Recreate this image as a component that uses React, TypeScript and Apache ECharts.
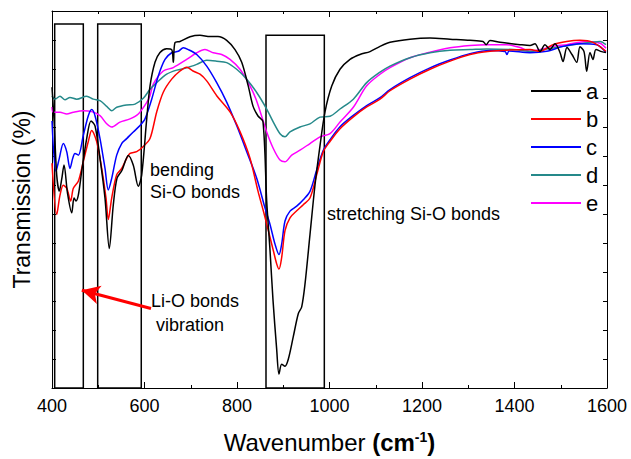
import React, { useEffect, useRef } from "react";
import * as echarts from "echarts";

// Wavenumber (cm-1) / transmission (arbitrary units) pairs
const seriesA: number[][] = [
  [400, 103.7], [404.3, 92.8], [410.2, 73.4], [415.8, 67.9], [421, 72], [426, 76.9], [433.5, 67.2],
  [442.6, 60.4], [447.6, 65.5], [451.9, 64.5], [456.9, 66.5], [464.2, 74.7], [475, 86], [484.3, 92.1],
  [493, 90.4], [503.8, 79.2], [514.6, 65.5], [523.9, 48.1], [532.5, 63.1], [540.5, 72.3], [551.4, 75.1],
  [565, 80.2], [575.8, 76.8], [586.6, 69.6], [593.9, 73.4], [604.8, 92.8], [611.9, 104.1], [622.7, 112.3],
  [633.5, 115.7], [648, 117], [658.8, 116.7], [662.3, 112.3], [666, 119.1], [676.8, 119.5], [698.4, 121.1],
  [720, 121.6], [741.6, 121.2], [758.9, 121.2], [777.7, 119.9], [795.7, 116.7], [810.2, 112.3],
  [824.4, 104.1], [834.6, 97.2], [845.4, 93.8], [856.2, 91.8], [864.2, 64.5], [871.4, 47.4], [877.8, 30.4],
  [885.8, 13.3], [890.8, 4.8], [896.6, 8.2], [903.8, 7.5], [910.9, 9.9], [921.7, 17.7], [932.5, 25.6],
  [939.9, 28], [947, 35.8], [957.8, 52.9], [968.6, 69.9], [979.5, 83.6], [990.3, 95.2], [1004.8, 104.1],
  [1022.7, 109.9], [1044.3, 113.3], [1065.9, 115], [1087.6, 116], [1109.2, 117.8], [1130.8, 119.2],
  [1174.1, 120.3], [1217.3, 120.7], [1260.6, 120.3], [1303.8, 119.9], [1331.9, 119.5], [1338.4, 118.4],
  [1347, 119.8], [1368.7, 119.2], [1411.9, 118.4], [1433.5, 118.1], [1444.3, 118.7], [1455.1, 116],
  [1465.9, 118.4], [1476.8, 116.7], [1487.6, 118.7], [1498.4, 115.7], [1504.9, 112.6], [1513.5, 117.4],
  [1524.3, 115], [1534.5, 112.3], [1541.6, 117.7], [1550.3, 116], [1556.1, 109.2], [1563.3, 115.7],
  [1569.7, 113.3], [1576.2, 116.7], [1588.5, 116], [1597.8, 115.7],
];
const seriesB: number[][] = [
  [400, 77.5], [410.2, 59.8], [417.3, 66.5], [424.4, 69.9], [431.8, 68.9], [440.4, 64.5], [446.1, 68.9],
  [456.9, 71.3], [467.7, 78.1], [478.5, 85], [485.8, 88.8], [496.6, 85], [507.5, 75.7], [516.8, 65.5],
  [521.7, 58.1], [529.1, 65.5], [539.9, 73.5], [550.7, 75.7], [561.5, 79.2], [568.6, 80.9], [583.1, 81.5],
  [597.4, 83.3], [611.9, 86], [626.4, 95.2], [640.6, 102], [658.8, 106.5], [676.8, 109.3], [691.2, 110.6],
  [704.9, 109.3], [720, 108.2], [734.5, 105.9], [756.1, 100.8], [784.9, 95.2], [806.5, 88.4],
  [828.1, 79.2], [845.4, 67.9], [856.9, 61.1], [867.7, 54.3], [878.5, 47.4], [885.8, 42.8], [890.8, 41],
  [896.6, 45], [903.8, 54.3], [914.6, 58.7], [929.1, 61.1], [943.3, 63.2], [957.8, 65.5], [972.3, 73.5],
  [986.6, 81.5], [1001.1, 85], [1022.7, 89.4], [1051.5, 93.5], [1080.4, 96.9], [1109.2, 99.6],
  [1130.8, 102.5], [1174.1, 106.5], [1217.3, 109.9], [1260.6, 112.7], [1303.8, 115], [1347, 116.1],
  [1383.1, 116.5], [1433.5, 116.7], [1455.1, 116.1], [1483.2, 118.4], [1512.8, 119.5], [1541.6, 119.9],
  [1569.7, 119.2], [1597.8, 116.1],
];
const seriesC: number[][] = [
  [400, 92.1], [408.6, 74.7], [415.8, 79.2], [424.4, 84.3], [431.8, 81.5], [438.9, 75.7], [444.8, 79.2],
  [449.7, 80.9], [456.9, 80.3], [467.7, 87.1], [478.5, 93.9], [485.8, 96], [493, 93.9], [503.8, 86],
  [514.6, 75.7], [521.7, 68.3], [529.1, 72.3], [539.9, 80.3], [550.7, 84.3], [561.5, 86], [575.8, 88.3],
  [590.3, 90.5], [601.1, 92.8], [615.6, 99.6], [629.8, 107.6], [644.3, 113.3], [658.8, 115.6],
  [673.1, 116.1], [683.9, 117.3], [694.7, 116.7], [712.9, 115], [734.5, 111], [756.1, 105.3],
  [777.7, 98.6], [799.3, 90.5], [821, 81.5], [842.6, 72.3], [860.5, 62.1], [871.4, 56.4], [882.2, 49.6],
  [890.8, 46], [896.6, 49.6], [903.8, 57.6], [914.6, 61], [929.1, 62.7], [943.3, 64.9], [957.8, 67.8],
  [972.3, 75.2], [986.6, 82], [1001.1, 85.6], [1022.7, 90.1], [1051.5, 94], [1080.4, 97.4],
  [1109.2, 100.1], [1130.8, 102.9], [1174.1, 107], [1217.3, 110.4], [1260.6, 113.1], [1303.8, 115.3],
  [1347, 116.4], [1379.5, 116], [1383.8, 115], [1388.1, 116.2], [1433.5, 115.6], [1469.6, 116.1],
  [1504.9, 117.8], [1541.6, 118.7], [1577.7, 118.4], [1597.8, 115.7],
];
const seriesD: number[][] = [
  [400, 100.7], [406.5, 99.6], [417.3, 100.6], [428.1, 99.4], [438.9, 100.2], [453.4, 99.6],
  [475, 100.6], [489.3, 99.6], [503.8, 99.1], [518.3, 97.1], [529.1, 95.6], [539.9, 96.8], [561.5, 97.6],
  [579.5, 97.9], [597.4, 99.9], [611.9, 103], [626.4, 105.3], [648, 108.2], [669.6, 109.6],
  [691.2, 110.4], [712.9, 111.6], [734.5, 113], [756.1, 112.7], [777.7, 112.2], [799.3, 109.9],
  [821, 106.5], [842.6, 101.9], [864.2, 96.2], [878.5, 91.7], [893, 87.7], [903.8, 86.6], [914.6, 88.3],
  [936.2, 90], [957.8, 91.1], [979.5, 93.4], [1001.1, 93.7], [1022.7, 96.2], [1051.5, 99.6],
  [1080.4, 105.3], [1109.2, 108.9], [1130.8, 111], [1174.1, 113.9], [1217.3, 115.6], [1260.6, 116.5],
  [1303.8, 116.7], [1339.9, 116.9], [1396.8, 116.7], [1440, 116.1], [1469.6, 116.9], [1504.9, 117.8],
  [1541.6, 118.7], [1584.9, 119.5], [1597.8, 118.4],
];
const seriesE: number[][] = [
  [400, 96.9], [402.8, 95.1], [417.3, 95.1], [431.8, 94.5], [446.1, 95.1], [467.7, 95.6], [485.8, 95.3],
  [503.8, 93.9], [518.3, 91.1], [529.1, 90], [547, 91.7], [568.6, 92.8], [586.6, 94.5], [604.8, 98.5],
  [611.9, 100.8], [619, 104.8], [640.6, 109.3], [662.3, 110.5], [691.2, 113.3], [712.9, 115.6],
  [730.8, 116.7], [748.8, 115.6], [766.9, 115], [784.9, 113.3], [806.5, 109.9], [828.1, 104.2],
  [841.1, 99.6], [849.7, 95.5], [864.2, 88.3], [878.5, 82.6], [893, 78.6], [903.8, 78], [918.3, 80.3],
  [936.2, 82], [957.8, 84.3], [979.5, 86.6], [1001.1, 87.7], [1022.7, 91.7], [1051.5, 96.8],
  [1080.4, 104.2], [1109.2, 108.2], [1130.8, 110.5], [1174.1, 113.9], [1217.3, 115.8], [1260.6, 117.3],
  [1303.8, 118.1], [1339.9, 118.4], [1383.1, 118.4], [1411.9, 117.4], [1433.5, 116.1], [1455.1, 116.7],
  [1483.2, 117.8], [1512.8, 118.4], [1556.1, 119.5], [1584.9, 118.9], [1597.8, 117.2],
];

const seriesNames = ["a", "b", "c", "d", "e"];
const seriesColors = ["#000000", "#ff0000", "#0000ff", "#25898a", "#ff00ff"];
const xTicks = [400, 600, 800, 1000, 1200, 1400, 1600];

// annotation boxes: [x from, x to, top]; bottom slightly below the axis
const boxRanges = [
  [405.8, 467.7, 125.5],
  [498.8, 593, 125.5],
  [862.7, 988.8, 121.6],
];
const boxBottom = -1.4;
// red arrow: tail and tip
const arrowTail = [614, 27.4];
const arrowTip = [464.5, 33.7];

const FONT = "'Liberation Sans', Arial, Helvetica, sans-serif";

export default function App() {
  const ref = useRef<HTMLDivElement>(null);
  useEffect(() => {
    if (!ref.current) return;
    const chart = echarts.init(ref.current, null, { renderer: "svg" });
    const all = [seriesA, seriesB, seriesC, seriesD, seriesE];
    const tickCommon = { show: true, inside: true, length: 6, lineStyle: { color: "#000", width: 1 } };
    const minorCommon = { show: true, splitNumber: 2, length: 3, lineStyle: { color: "#000", width: 1 } };
    const lineSeries: any[] = all.map((d, i) => ({
      name: seriesNames[i],
      type: "line",
      data: d,
      symbol: "none",
      smooth: 0.3,
      clip: false,
      lineStyle: { color: seriesColors[i], width: 1.5 },
      itemStyle: { color: seriesColors[i] },
      z: 3 + (4 - i),
    }));
    lineSeries.push({
      name: "annot",
      type: "line",
      data: [],
      symbol: "none",
      clip: false,
      silent: true,
      markArea: {
        silent: true,
        itemStyle: { color: "rgba(0,0,0,0)", borderColor: "#000", borderWidth: 1.5 },
        data: boxRanges.map((b) => [{ coord: [b[0], b[2]] }, { coord: [b[1], boxBottom] }]),
      },
      markLine: {
        silent: true,
        symbol: ["none", "arrow"],
        symbolSize: [14, 18],
        label: { show: false },
        lineStyle: { color: "#ff0000", width: 3, type: "solid" },
        data: [[{ coord: arrowTail }, { coord: arrowTip }]],
      },
    });
    chart.setOption({
      animation: false,
      textStyle: { fontFamily: FONT },
      grid: { left: 52, right: 24, top: 11, bottom: 67, containLabel: false },
      legend: {
        orient: "vertical",
        left: 526,
        top: 75,
        data: seriesNames,
        itemWidth: 50,
        itemHeight: 14,
        itemGap: 6,
        icon: "path://M0,6 L50,6 L50,8 L0,8 Z",
        textStyle: { fontSize: 22, color: "#000", fontFamily: FONT },
      },
      xAxis: [
        {
          type: "value",
          min: 400,
          max: 1600,
          interval: 200,
          name: "Wavenumber {b|(cm}{sup|-1}{b|)}",
          nameLocation: "middle",
          nameGap: 42,
          nameTextStyle: {
            fontSize: 24,
            color: "#000",
            fontFamily: FONT,
            rich: {
              b: { fontSize: 24, fontWeight: "bold", fontFamily: FONT, color: "#000" },
              sup: { fontSize: 14, fontWeight: "bold", verticalAlign: "top", padding: [0, 0, 10, 0], fontFamily: FONT, color: "#000" },
            },
          },
          axisLine: { show: true, onZero: false, lineStyle: { color: "#000", width: 1 } },
          axisTick: tickCommon,
          minorTick: minorCommon,
          splitLine: { show: false },
          axisLabel: {
            fontSize: 18,
            color: "#000",
            margin: 9,
            fontFamily: FONT,
            formatter: (v: number) => (xTicks.includes(v) ? String(v) : ""),
          },
        },
        {
          type: "value",
          position: "top",
          min: 400,
          max: 1600,
          interval: 200,
          axisLine: { show: true, onZero: false, lineStyle: { color: "#000", width: 1 } },
          axisTick: tickCommon,
          minorTick: minorCommon,
          axisLabel: { show: false },
          splitLine: { show: false },
        },
      ],
      yAxis: [
        {
          type: "value",
          min: 0,
          max: 130,
          interval: 10,
          name: "Transmission (%)",
          nameLocation: "middle",
          nameGap: 19,
          nameTextStyle: { fontSize: 23, color: "#000", fontFamily: FONT },
          axisLine: { show: true, onZero: false, lineStyle: { color: "#000", width: 1 } },
          axisTick: { ...tickCommon, length: 4 },
          axisLabel: { show: false },
          splitLine: { show: false },
        },
        {
          type: "value",
          position: "right",
          min: 0,
          max: 130,
          interval: 10,
          axisLine: { show: true, onZero: false, lineStyle: { color: "#000", width: 1 } },
          axisTick: { ...tickCommon, length: 4 },
          axisLabel: { show: false },
          splitLine: { show: false },
        },
      ],
      graphic: [
        { type: "text", left: 150, top: 159, style: { text: "bending\nSi-O bonds", fontSize: 18, lineHeight: 22, fill: "#000", fontFamily: FONT } },
        { type: "text", left: 327, top: 205, style: { text: "stretching Si-O bonds", fontSize: 18, fill: "#000", fontFamily: FONT } },
        { type: "text", left: 151, top: 292, style: { text: "Li-O bonds", fontSize: 18, fill: "#000", fontFamily: FONT } },
        { type: "text", left: 156, top: 316, style: { text: "vibration", fontSize: 18, fill: "#000", fontFamily: FONT } },
      ],
      series: lineSeries,
    });
    return () => chart.dispose();
  }, []);
  return <div ref={ref} style={{ width: 631, height: 459, position: "absolute", left: 0, top: 0 }} />;
}
